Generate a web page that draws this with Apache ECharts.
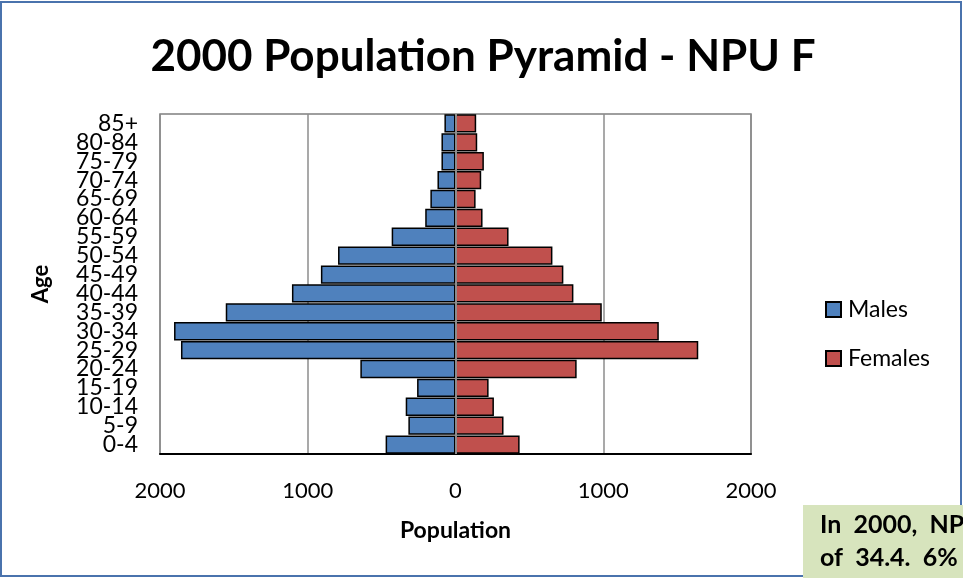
<!DOCTYPE html>
<html>
<head>
<meta charset="utf-8">
<script src="https://cdn.jsdelivr.net/npm/echarts@6/dist/echarts.min.js"></script>
<style>
  html, body { margin: 0; padding: 0; background: #fff; }
  #main { width: 963px; height: 578px; }
</style>
</head>
<body>
<div id="main"></div>
<script>
// age groups, bottom to top
const ageGroups = ['0-4', '5-9', '10-14', '15-19', '20-24', '25-29', '30-34', '35-39', '40-44',
  '45-49', '50-54', '55-59', '60-64', '65-69', '70-74', '75-79', '80-84', '85+'];
// males shown on the left (negative side)
const males = [473, 319, 337, 260, 644, 1858, 1905, 1555, 1107, 911, 795, 432, 205, 170, 122, 95, 95, 75];
const females = [434, 325, 260, 224, 820, 1643, 1376, 990, 798, 730, 656, 359, 183, 136, 174, 192, 147, 140];
const noteLines = ['In  2000,  NP', 'of  34.4.  6%'];

const FONT = 'Lato, "Open Sans", sans-serif';

let myChart = echarts.init(document.getElementById('main'));

myChart.setOption({
  animation: false,
  title: {
    text: '2000 Population Pyramid - NPU F',
    left: 478,
    top: 30,
    textAlign: 'center',
    textStyle: { fontFamily: FONT, fontSize: 44, fontWeight: 'bold', color: '#000' }
  },
  legend: {
    orient: 'vertical',
    left: 820,
    top: 293,
    itemGap: 26,
    itemWidth: 15,
    itemHeight: 15,
    icon: 'rect',
    textStyle: { fontFamily: FONT, fontSize: 23, color: '#000', padding: [0, 0, 0, 2] },
    data: ['Males', 'Females']
  },
  grid: {
    left: 160, right: 212, top: 114, bottom: 124,
    show: true, borderColor: '#7f7f7f', borderWidth: 1.5
  },
  xAxis: {
    type: 'value',
    min: -2000, max: 2000, interval: 1000,
    name: 'Population',
    nameLocation: 'middle',
    nameGap: 65,
    nameTextStyle: { fontFamily: FONT, fontSize: 23, fontWeight: 'bold', color: '#000' },
    axisLine: { show: true, onZero: false, lineStyle: { color: '#000', width: 2 } },
    axisTick: { show: false },
    axisLabel: {
      margin: 26,
      fontFamily: FONT, fontSize: 22, color: '#000',
      formatter: v => Math.abs(v)
    },
    splitLine: { show: true, lineStyle: { color: '#8c8c8c', width: 1.5 } }
  },
  yAxis: {
    type: 'category',
    data: ageGroups,
    name: 'Age',
    nameLocation: 'middle',
    nameRotate: 90,
    nameGap: 108,
    nameTextStyle: { fontFamily: FONT, fontSize: 22, fontWeight: 'bold', color: '#000' },
    axisLine: { show: false },
    axisTick: { show: false },
    axisLabel: {
      interval: 0, margin: 22,
      fontFamily: FONT, fontSize: 23, color: '#000', lineHeight: 18
    }
  },
  series: [
    {
      name: 'Males',
      type: 'bar',
      stack: 'pop',
      barCategoryGap: '3%',
      data: males.map(v => -v),
      itemStyle: { color: '#4f81bd', borderColor: '#000', borderWidth: 1.5 },
      markLine: {
        silent: true,
        symbol: 'none',
        label: { show: false },
        lineStyle: { color: '#8c8c8c', width: 2, type: 'solid' },
        data: [{ xAxis: 0 }]
      }
    },
    {
      name: 'Females',
      type: 'bar',
      stack: 'pop',
      barCategoryGap: '3%',
      data: females,
      itemStyle: { color: '#c0504d', borderColor: '#000', borderWidth: 1.5 }
    }
  ],
  graphic: [
    // chart frame
    {
      type: 'rect', z: 100, silent: true,
      shape: { x: 1, y: 2, width: 960, height: 574 },
      style: { fill: null, stroke: '#4a73ad', lineWidth: 2 }
    },
    // note box
    {
      type: 'rect', z: 101,
      shape: { x: 803, y: 505, width: 160, height: 73 },
      style: { fill: '#d7e4bd' }
    },
    {
      type: 'text', z: 102, left: 820, top: 512,
      style: { text: noteLines[0], fontFamily: FONT, fontSize: 25, fontWeight: 'bold', fill: '#000' }
    },
    {
      type: 'text', z: 102, left: 820, top: 545,
      style: { text: noteLines[1], fontFamily: FONT, fontSize: 25, fontWeight: 'bold', fill: '#000' }
    }
  ]
});
</script>
</body>
</html>
